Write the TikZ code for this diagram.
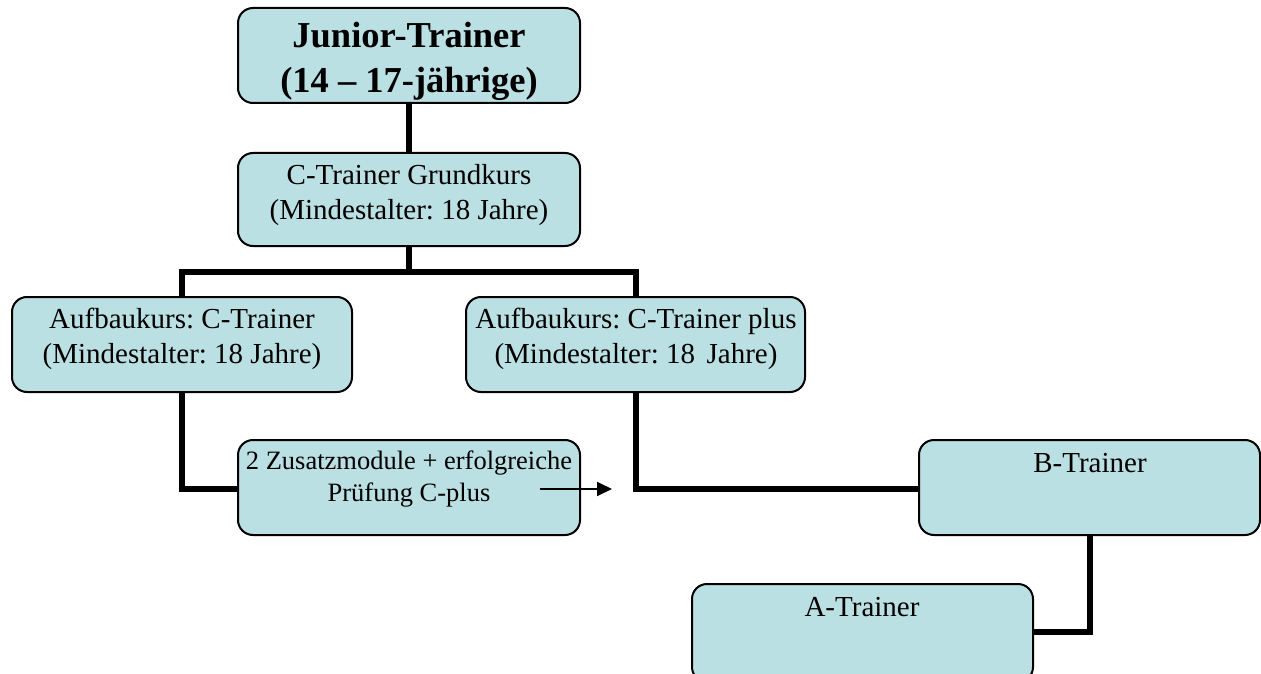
\documentclass[tikz,border=0pt]{standalone}
\usepackage{fontspec}
\setmainfont{Liberation Serif}
\usetikzlibrary{arrows.meta}
\definecolor{boxfill}{RGB}{187,224,227}
\frenchspacing
\tikzset{
  box/.style={draw=black, line width=2pt, fill=boxfill, rounded corners=15pt, inner sep=0pt},
  conn/.style={draw=black, line width=5.5pt},
  txt/.style={anchor=north, align=center, inner sep=0pt, font=\fontsize{29}{35}\selectfont},
  smalltxt/.style={anchor=north, align=center, inner sep=0pt, font=\fontsize{26.5}{32}\selectfont},
  bigtxt/.style={anchor=north, align=center, inner sep=0pt, font=\bfseries\fontsize{36.5}{45}\selectfont},
}
\begin{document}
\begin{tikzpicture}[x=1pt,y=-1pt]
\useasboundingbox (0,0) rectangle (1261,674);
\clip (0,0) rectangle (1261,674);
% named anchors of boxes
\coordinate (jb) at (409,103);
\coordinate (gt) at (409,153);
\coordinate (gb) at (409,246);
\coordinate (lt) at (182,297);
\coordinate (lb) at (182,392);
\coordinate (rt) at (636,297);
\coordinate (rb) at (636,392);
\coordinate (zw) at (238,489);
\coordinate (bw) at (919,489);
\coordinate (bb) at (1090,535);
\coordinate (ae) at (1033,632);
\coordinate (split) at (409,272);
% connectors (behind boxes)
\draw[conn] (jb) -- (gt);
\draw[conn] (gb) -- (split);
\draw[conn] (lt) |- (split) -| (rt);
\draw[conn] (lb) |- (zw);
\draw[conn] (rb) |- (bw);
\draw[conn] (bb) |- (ae);
% boxes
\draw[box] (238,8) rectangle (580,103);
\draw[box] (238,153) rectangle (580,246);
\draw[box] (12,297) rectangle (352,392);
\draw[box] (466,297) rectangle (805,392);
\draw[box] (238,440) rectangle (580,535);
\draw[box] (919,440) rectangle (1260,535);
\draw[box] (692,584) rectangle (1033,682);
% texts
\node[bigtxt] (tjun) at (409,22) {Junior-Trainer\\(14 – 17-jährige)};
\node[txt] (tgr) at (409,164) {C-Trainer Grundkurs\\(Mindestalter: 18 Jahre)};
\node[txt] (tl) at (182,308) {Aufbaukurs: C-Trainer\\(Mindestalter: 18 Jahre)};
\node[txt] (tr) at (636,308) {Aufbaukurs: C-Trainer plus\\(Mindestalter: 18\hspace{0.15em} Jahre)};
\node[smalltxt] (tz) at (409,451) {2 Zusatzmodule + erfolgreiche\\Prüfung C-plus};
\node[txt] (tb) at (1090,453) {B-Trainer};
\node[txt] (ta) at (862,597) {A-Trainer};
% arrow
\coordinate (arS) at (540,489);
\coordinate (arE) at (612,489);
\draw[line width=1.8pt, -{Triangle[length=15pt,width=14pt]}] (arS) -- (arE);
\end{tikzpicture}
\end{document}
